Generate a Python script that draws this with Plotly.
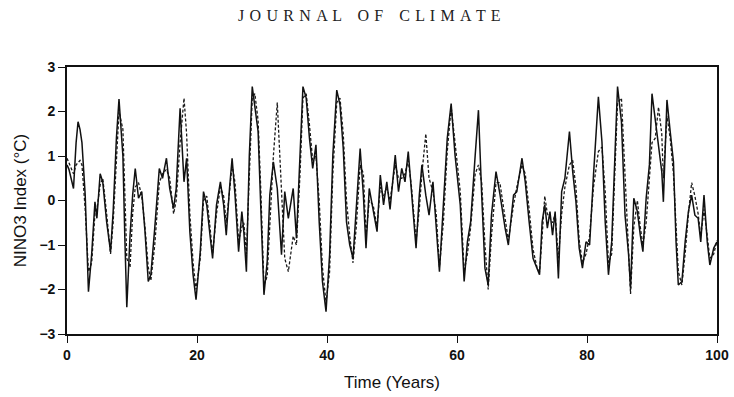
import plotly.graph_objects as go

# Time axis (years) shared by both series
time_years = [0, 0.3, 1.0, 1.4, 1.7, 2.0, 2.3, 2.8, 3.3, 3.8, 4.3, 4.6, 5.1, 5.5, 6.1, 6.7, 7.1, 7.6, 8.0, 8.6,
              8.9, 9.2, 9.7, 10.1, 10.5, 11.0, 11.5, 12.0, 12.5, 12.9, 13.5, 14.2, 14.7, 15.3, 15.8, 16.4, 16.8,
              17.4, 18.0, 18.4, 18.9, 19.4, 19.85, 20.5, 21.0, 21.5, 22.0, 22.4, 23.0, 23.6, 24.1, 24.5, 25.0,
              25.4, 25.85, 26.4, 26.9, 27.2, 27.6, 28.05, 28.5, 28.9, 29.4, 29.8, 30.3, 30.8, 31.2, 31.75, 32.35,
              33.0, 33.5, 34.05, 34.8, 35.3, 35.85, 36.3, 36.8, 37.3, 37.8, 38.3, 38.8, 39.3, 39.85, 40.4, 40.9,
              41.5, 42.0, 42.5, 43.0, 43.5, 44.0, 44.5, 45.1, 45.6, 46.0, 46.5, 47.1, 47.7, 48.2, 48.7, 49.2,
              49.7, 50.5, 51.0, 51.5, 52.0, 52.5, 53.0, 53.7, 54.2, 54.6, 55.2, 55.7, 56.3, 56.8, 57.3, 57.9,
              58.5, 59.1, 59.7, 60.5, 61.1, 61.6, 62.1, 62.8, 63.3, 63.8, 64.3, 64.8, 65.3, 66.0, 66.6, 67.4,
              67.9, 68.7, 69.2, 70.0, 70.5, 71.1, 71.7, 72.3, 72.7, 73.1, 73.5, 73.9, 74.3, 74.7, 75.1, 75.6,
              76.1, 76.6, 77.3, 77.8, 78.3, 78.8, 79.3, 79.85, 80.4, 81.0, 81.75, 82.3, 82.8, 83.3, 83.8, 84.3,
              84.7, 85.3, 85.85, 86.4, 86.7, 87.2, 87.75, 88.2, 88.6, 89.1, 89.6, 90.0, 90.5, 91.0, 91.5, 91.75,
              92.3, 92.8, 93.3, 93.7, 94.05, 94.6, 95.1, 95.6, 96.1, 96.6, 97.1, 97.5, 98.0, 98.5, 98.9, 99.5, 100]

# Solid series (NINO3 index, degC)
nino3_solid = [0.8, 0.7, 0.27, 1.3, 1.77, 1.6, 1.3, 0.12, -2.05, -1.2, -0.03, -0.4, 0.6, 0.42, -0.48, -1.15, -0.25,
               1.4, 2.28, 1.0, -0.85, -2.4, -0.78, 0.12, 0.72, 0.05, 0.2, -0.7, -1.82, -1.67, -0.62, 0.72, 0.5,
               0.95, 0.27, -0.18, 0.27, 2.07, 0.42, 0.95, -0.7, -1.67, -2.23, -1.15, 0.2, -0.1, -0.78, -1.3, -0.1,
               0.42, -0.1, -0.78, 0.27, 0.95, 0.12, -1.15, -0.25, -0.7, -1.6, 1.02, 2.56, 2.15, 1.55, -0.1, -2.12,
               -1.37, 0.12, 0.87, 0.27, -1.22, 0.2, -0.4, 0.27, -0.85, 1.02, 2.56, 2.3, 1.4, 0.72, 1.25, -0.48,
               -1.82, -2.5, -1.22, 1.02, 2.48, 2.15, 1.17, -0.48, -1.0, -1.3, -0.25, 1.17, 0.12, -1.07, 0.27,
               -0.25, -0.7, 0.57, -0.1, 0.42, -0.2, 1.02, 0.2, 0.72, 0.42, 1.1, 0.12, -1.07, 0.12, 0.8, 0.12,
               -0.33, 0.42, -0.55, -1.6, -0.1, 1.4, 2.18, 1.02, -0.1, -1.82, -0.93, -0.48, 1.02, 2.03, 0.12,
               -1.52, -1.9, -0.33, 0.65, 0.15, -0.62, -1.0, 0.12, 0.2, 0.95, 0.42, -0.48, -1.3, -1.52, -1.67,
               -0.48, -0.1, -0.62, -0.25, -0.78, -0.25, -1.75, 0.2, 0.5, 1.55, 0.65, -0.03, -1.07, -1.52, -0.93,
               -1.0, 0.57, 2.33, 1.32, -0.48, -1.67, -0.93, 1.02, 2.56, 1.77, -0.33, -1.22, -1.97, 0.05, -0.25,
               -0.78, -1.15, 0.05, 0.8, 2.4, 1.77, 1.17, 0.65, -0.03, 2.26, 1.55, 0.87, -0.93, -1.9, -1.82, -0.93,
               -0.25, 0.12, -0.33, -0.4, -0.93, 0.12, -0.93, -1.45, -1.07, -0.93]

# Dashed series (NINO3 index, degC)
nino3_dashed = [0.95, 0.85, 0.6, 0.8, 0.85, 0.9, 0.8, -0.2, -1.6, -1.4, -0.3, -0.2, 0.35, 0.5, -0.3, -1.2, -0.5,
                1.0, 2.0, 1.6, 0.2, -1.3, -1.5, -0.3, 0.3, 0.4, 0.1, -0.6, -1.5, -1.8, -1.0, 0.4, 0.6, 0.7, 0.5,
                -0.3, 0.0, 1.3, 2.3, 1.5, -0.3, -1.4, -2.0, -1.3, 0.0, 0.1, -0.6, -1.2, -0.3, 0.3, 0.1, -0.5,
                0.2, 0.8, 0.4, -0.9, -0.6, -0.5, -1.2, 0.6, 2.3, 2.4, 1.8, 0.3, -1.9, -1.7, -0.5, 1.0, 2.2, 0.3,
                -1.3, -1.6, -0.8, -1.0, 0.6, 2.3, 2.4, 1.7, 0.9, 1.0, 0.0, -1.5, -2.3, -1.6, 0.6, 2.2, 2.3, 1.5,
                0.0, -0.8, -1.4, -0.6, 0.8, 0.6, -0.8, 0.0, -0.1, -0.6, 0.3, 0.1, 0.3, 0.0, 0.8, 0.5, 0.5, 0.6,
                0.9, 0.3, -0.9, -0.2, 0.6, 1.5, 0.5, 0.2, -0.3, -1.5, -0.5, 1.1, 2.1, 1.3, 0.2, -1.6, -1.2, -0.6,
                0.6, 0.8, 0.4, -1.0, -2.0, -0.8, 0.4, 0.4, -0.4, -0.9, -0.1, 0.3, 0.8, 0.6, -0.2, -1.1, -1.5,
                -1.6, -0.8, 0.1, -0.3, -0.4, -0.5, -0.3, -1.3, -0.3, 0.3, 0.8, 0.9, 0.3, -0.9, -1.4, -1.2, -0.8,
                0.3, 1.1, 1.2, 0.2, -1.4, -1.2, 0.5, 2.2, 2.3, 0.5, -1.0, -2.1, -0.6, 0.0, -0.6, -1.0, -0.5, 0.5,
                1.3, 1.4, 2.1, 1.5, 0.5, 1.9, 1.4, 0.6, -0.5, -1.6, -1.9, -1.2, -0.3, 0.4, 0.1, -0.3, -0.8, -0.2,
                -0.8, -1.3, -1.2, -0.9]

x_ticks = [0, 20, 40, 60, 80, 100]
y_ticks = [-3, -2, -1, 0, 1, 2, 3]
header_text = "JOURNAL OF CLIMATE"

fig = go.Figure()
fig.add_trace(go.Scatter(x=time_years, y=nino3_dashed, mode="lines",
                         line=dict(color="#1a1a1a", width=1.3, dash="3px,2px"), showlegend=False))
fig.add_trace(go.Scatter(x=time_years, y=nino3_solid, mode="lines",
                         line=dict(color="#111", width=1.5), showlegend=False))

axis_common = dict(showline=True, linecolor="#111", linewidth=1.6, mirror=True, ticks="outside",
                   tickcolor="#111", tickwidth=1.4, ticklen=7, showgrid=False, zeroline=False,
                   automargin=False,
                   tickfont=dict(family="Liberation Sans, Arial", size=14, color="#111", weight="bold"),
                   title_font=dict(family="Liberation Sans, Arial", size=17, color="#111"))

fig.update_xaxes(range=[0, 100], tickvals=x_ticks, title_text="Time (Years)", title_standoff=15, **axis_common)
fig.update_yaxes(range=[-3, 3], tickvals=y_ticks, title_text="NINO3 Index (°C)", title_standoff=8, **axis_common)

# letter-spaced header
spaced = " &nbsp;&nbsp; ".join("&#8202;".join(" ".join(word)) if False else " &#8202;".join(word)
                               for word in header_text.split(" "))
fig.add_annotation(text=spaced, xref="paper", yref="paper",
                   x=0.466, y=1.0, yshift=52, showarrow=False, xanchor="center", yanchor="middle",
                   font=dict(family="Liberation Serif, DejaVu Serif", size=16, color="#222"))

fig.update_layout(width=734, height=397, margin=dict(l=67, r=17, t=67, b=63),
                  paper_bgcolor="white", plot_bgcolor="white")

fig.write_html("out.html")
